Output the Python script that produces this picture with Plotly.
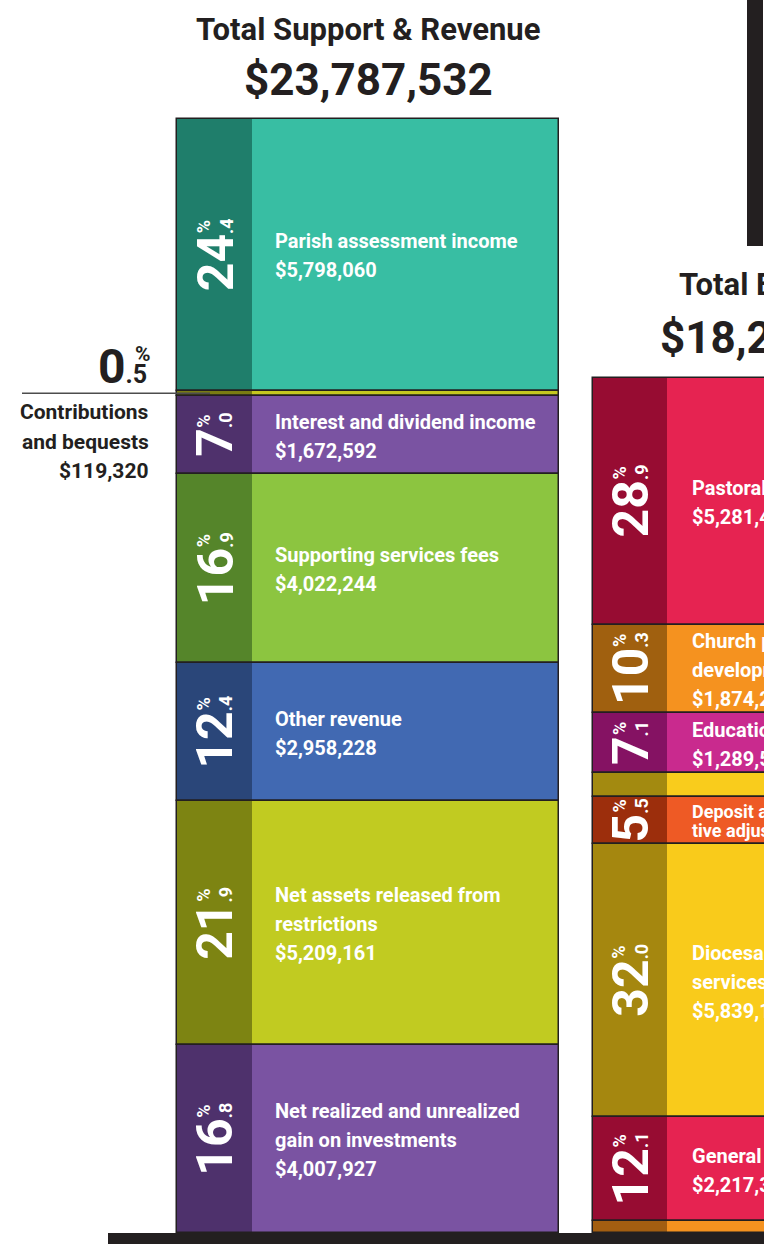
import plotly.graph_objects as go

W, H = 764, 1245

# ---------------- data ----------------
rev_title = "Total Support & Revenue"
rev_labels = ["Parish assessment income", "Contributions and bequests",
              "Interest and dividend income", "Supporting services fees",
              "Other revenue", "Net assets released from<br>restrictions",
              "Net realized and unrealized<br>gain on investments"]
rev_values = [5798060, 119320, 1672592, 4022244, 2958228, 5209161, 4007927]

exp_title = "Total Expenses"
exp_labels = ["Pastoral ministries", "Church planting and<br>development",
              "Education", "", "Deposit and loan fund administra-<br>tive adjustments",
              "Diocesan ministries and<br>services", "General and administrative", ""]
exp_values = [5281436, 1874215, 1289507, 505310, 1004862, 5839118, 2217394, 249870]

# ---------------- style ----------------
rev_main = ["#38BEA3", "#C5C720", "#7A53A2", "#8CC540", "#4169B2", "#C1CB21", "#7A53A2"]
rev_strip = ["#1F7E6B", "#7A7C12", "#4F316C", "#55852A", "#2A4679", "#7D8412", "#4E316C"]
exp_main = ["#E62351", "#F5921F", "#C92A8E", "#F9CC1C", "#EE5A25", "#F9CB1B", "#E62351", "#F5921F"]
exp_strip = ["#970C32", "#A0600F", "#851263", "#A38A10", "#9C2E0C", "#A5870F", "#970C32", "#A35E11"]

FONT = "Roboto, Liberation Sans, sans-serif"
DARK = "#231F20"

BASE_PX = 1233          # pixel row of the shared baseline
REV_TOP_PX = 119        # pixel row of the revenue column top
scale = (BASE_PX - REV_TOP_PX) / sum(rev_values)   # px per dollar

cols = {
    "rev": dict(left=177, right=559, strip=252, labx=273),
    "exp": dict(left=593, right=975, strip=667, labx=690),
}

fig = go.Figure()
annotations = []


def money(v):
    return "${:,}".format(v)


def add_column(key, labels, values, main_cols, strip_cols, skip_label=()):
    c = cols[key]
    total = sum(values)
    acc = total
    bases = []
    for v in values:
        acc -= v
        bases.append(acc)
    mids = [b + v / 2 for b, v in zip(bases, values)]
    mc = (c["left"] + c["right"]) / 2
    mw = c["right"] - c["left"]
    sc = (c["left"] + c["strip"]) / 2
    sw = c["strip"] - c["left"]
    n = len(values)
    fig.add_trace(go.Bar(x=[mc] * n, y=values, base=bases, width=[mw] * n,
                         marker=dict(color=main_cols, line=dict(width=0)),
                         hoverinfo="skip", showlegend=False))
    fig.add_trace(go.Bar(x=[sc] * n, y=values, base=bases, width=[sw] * n,
                         marker=dict(color=strip_cols, line=dict(width=0)),
                         hoverinfo="skip", showlegend=False))
    fig.add_trace(go.Bar(x=[mc] * n, y=values, base=bases, width=[mw] * n,
                         marker=dict(color="rgba(0,0,0,0)", line=dict(width=1.5, color=DARK)),
                         hoverinfo="skip", showlegend=False))
    for i, (lab, v, m) in enumerate(zip(labels, values, mids)):
        hpx = v * scale
        if i in skip_label or not lab:
            continue
        # percent label in strip
        p = f"{100 * v / total:.1f}"
        ip, dp = p.split(".")
        nd = len(ip)
        big = 50
        small = 18
        length = nd * 0.56 * big + 0.8 * small
        annotations.append(dict(
            x=sc, y=m, xref="x", yref="y", textangle=-90, showarrow=False,
            text=f"{ip}<span style='font-size:{small}px'>.{dp}</span>",
            font=dict(family=FONT, size=big, color="white", weight="bold"),
            xanchor="center", yanchor="middle", xshift=1))
        annotations.append(dict(
            x=sc, y=m, xref="x", yref="y", textangle=-90, showarrow=False,
            text="%", font=dict(family=FONT, size=small, color="white", weight="bold"),
            xanchor="center", yanchor="middle", xshift=-11,
            yshift=length / 2 - 0.8 * small / 2))
        # text label
        lines = lab.split("<br>")
        if (len(lines) + 1) * 29 <= hpx:
            lines = lines + [money(v)]
            sp, fs = 29, 20
        else:
            lines[-1] = lines[-1] + " " + money(v)
            sp, fs = 19, 18
        k = len(lines)
        for j, ln in enumerate(lines):
            annotations.append(dict(
                x=c["labx"], y=m, xref="x", yref="y", showarrow=False,
                text=ln, font=dict(family=FONT, size=fs, color="white", weight="bold"),
                xanchor="left", yanchor="middle",
                yshift=((k - 1) / 2 - j) * sp - 1))
    return bases, mids, total


rb, rm, rtotal = add_column("rev", rev_labels, rev_values, rev_main, rev_strip, skip_label=(1,))
eb, em, etotal = add_column("exp", exp_labels, exp_values, exp_main, exp_strip)


def py(p):
    return 1 - p / H


# titles
for key, title, total, y1, y2 in [("rev", rev_title, rtotal, 30, 80),
                                  ("exp", exp_title, etotal, 285, 338)]:
    c = cols[key]
    cx = (c["left"] + c["right"]) / 2 / W
    annotations.append(dict(x=cx, y=py(y1), xref="paper", yref="paper", showarrow=False,
                            text=title, xanchor="center", yanchor="middle",
                            font=dict(family=FONT, size=31, color=DARK, weight="bold")))
    annotations.append(dict(x=cx, y=py(y2), xref="paper", yref="paper", showarrow=False,
                            text=money(total), xanchor="center", yanchor="middle",
                            font=dict(family=FONT, size=44, color=DARK, weight="bold")))

# contributions call-out (segment index 1)
ci = 1
cp = f"{100 * rev_values[ci] / rtotal:.1f}"
cip, cdp = cp.split(".")
annotations.append(dict(x=149, y=rm[ci], xref="x", yref="y", showarrow=False,
                        text=f"{cip}<span style='font-size:25px'>.{cdp}</span>",
                        xanchor="right", yanchor="middle", yshift=27,
                        font=dict(family=FONT, size=48, color=DARK, weight="bold")))
annotations.append(dict(x=143, y=rm[ci], xref="x", yref="y", showarrow=False,
                        text="%", xanchor="center", yanchor="middle", yshift=39,
                        font=dict(family=FONT, size=21, color=DARK, weight="bold")))
callout_lines = rev_labels[ci].replace(" and", "<br>and").split("<br>") + [money(rev_values[ci])]
for j, ln in enumerate(callout_lines):
    annotations.append(dict(x=151, y=rm[ci], xref="x", yref="y", showarrow=False,
                            text=ln, xanchor="right", yanchor="middle",
                            yshift=-19 - 29.5 * j,
                            font=dict(family=FONT, size=21, color=DARK, weight="bold")))

shapes = [
    # call-out rule
    dict(type="line", xref="x", yref="y", x0=22, x1=210, y0=rm[ci], y1=rm[ci],
         line=dict(color="#4D4D4D", width=1.5)),
    # baseline
    dict(type="rect", xref="x", yref="y", x0=108, x1=W + 5, y0=0, y1=-11 / scale,
         fillcolor=DARK, line=dict(width=0)),
    # vertical divider
    dict(type="rect", xref="x", yref="paper", x0=747, x1=763, y0=py(246), y1=1.01,
         fillcolor=DARK, line=dict(width=0)),
]

fig.update_layout(
    width=W, height=H, margin=dict(l=0, r=0, t=0, b=0),
    paper_bgcolor="white", plot_bgcolor="white",
    barmode="overlay", bargap=0,
    xaxis=dict(range=[0, W], visible=False, fixedrange=True),
    yaxis=dict(range=[-(H - BASE_PX) / scale, BASE_PX / scale], visible=False, fixedrange=True),
    annotations=annotations, shapes=shapes,
)

fig.write_html("out.html", config={"displayModeBar": False},
               post_script="document.body.style.margin='0';document.body.style.overflow='hidden';")
